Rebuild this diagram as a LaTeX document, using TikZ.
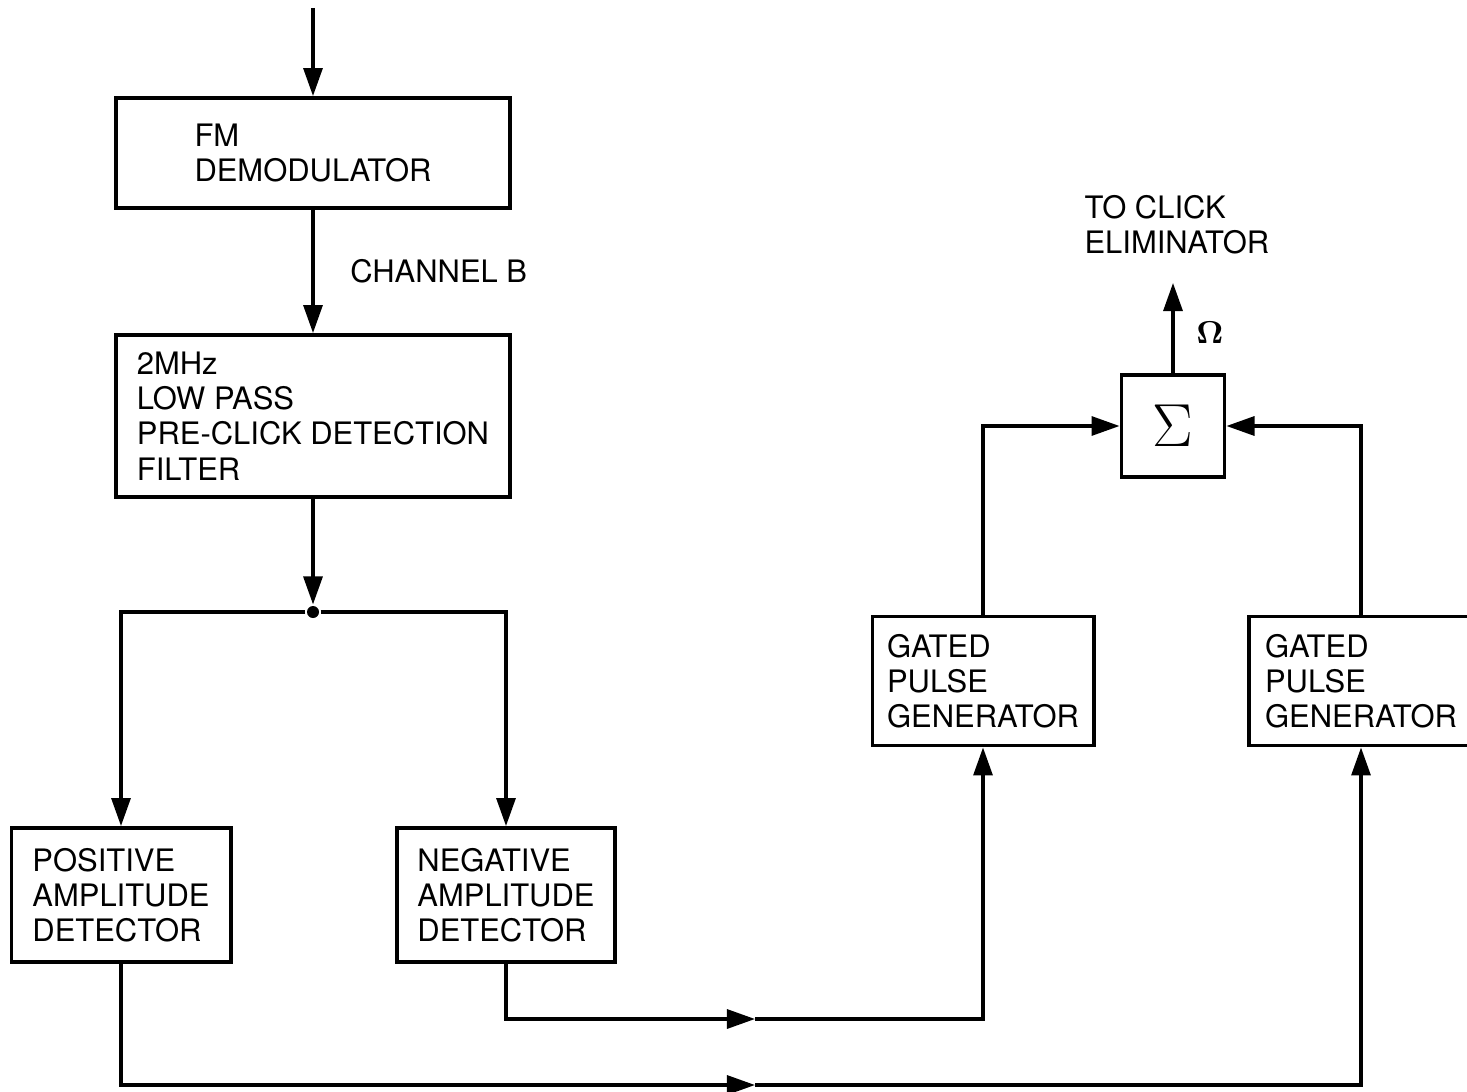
\documentclass[tikz,border=0pt]{standalone}
\usepackage{fontspec}
\setmainfont{TeX Gyre Heros}
\usepackage{amsmath}
\usetikzlibrary{arrows.meta}

\begin{document}
\begin{tikzpicture}[x=0.01cm,y=-0.01cm,line width=0.9pt,
  >={Triangle[length=0.28cm,width=0.19cm]},
  font=\fontsize{8.8}{10}\selectfont,
  blk/.style={draw,align=left,inner sep=0pt,line width=1.1pt}]
\useasboundingbox (0,0) rectangle (1467,1091);
% blocks
\node[blk,minimum width=3.93cm,minimum height=1.10cm](fm) at (313,153){FM\\DEMODULATOR};
\node[blk,minimum width=3.94cm,minimum height=1.62cm](lpf) at (313,416){2MHz\\LOW PASS\\PRE-CLICK DETECTION\\FILTER};
\node[blk,minimum width=2.19cm,minimum height=1.34cm](pad) at (121,895){POSITIVE\\AMPLITUDE\\DETECTOR};
\node[blk,minimum width=2.18cm,minimum height=1.34cm](nad) at (506,895){NEGATIVE\\AMPLITUDE\\DETECTOR};
\node[blk,minimum width=2.21cm,minimum height=1.29cm](gpga) at (983,681){GATED\\PULSE\\GENERATOR};
\node[blk,minimum width=2.24cm,minimum height=1.29cm](gpgb) at (1361,681){GATED\\PULSE\\GENERATOR};
\node[blk,minimum width=1.03cm,minimum height=1.02cm,font=\LARGE](sum) at (1173,426){$\Sigma$};
\node[circle,fill,inner sep=0pt,minimum size=0.12cm](jn) at (313,612){};
% free ends
\coordinate(in) at (313,8);
\coordinate(out) at (1173,283);
\coordinate(ma) at (755,1019);
\coordinate(mb) at (755,1085);
% connectors
\draw[->](in)--(fm);
\draw[->](fm)--(lpf)node[pos=0.5,right=0.24cm,anchor=west]{CHANNEL B};
\draw[->](lpf)--(jn);
\draw[->](jn)-|(pad);
\draw[->](jn)-|(nad);
\draw[->](nad)|-(ma);
\draw[->](ma)-|(gpga);
\draw[->](pad)|-(mb);
\draw[->](mb)-|(gpgb);
\draw[->](gpga)|-(sum);
\draw[->](gpgb)|-(sum);
\draw[->](sum)--(out)node[pos=0.45,right=0.1cm]{$\boldsymbol{\Omega}$};
\node[anchor=south west,align=left,inner sep=0pt](lbl) at (1083,256){TO CLICK\\ELIMINATOR};
\end{tikzpicture}
\end{document}
